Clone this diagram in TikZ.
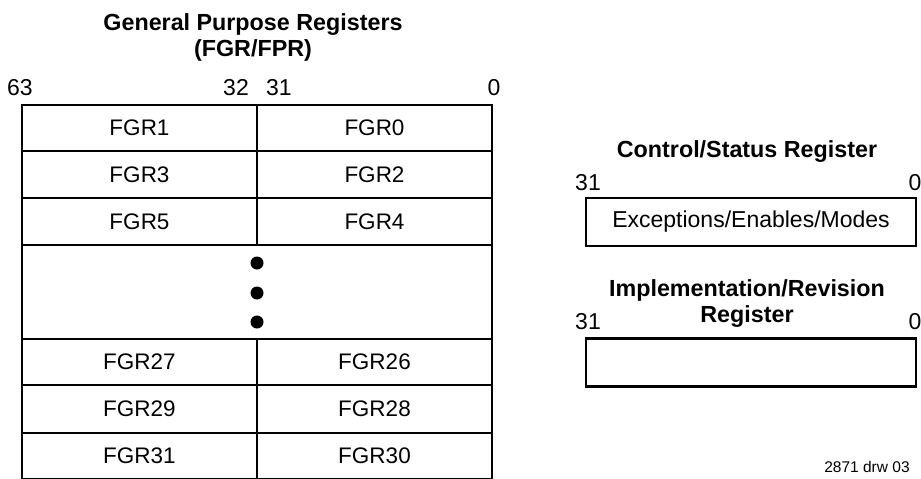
\documentclass[tikz,border=0pt]{standalone}
\usepackage{fontspec}
\setmainfont{Liberation Sans}
\begin{document}
\begin{tikzpicture}[x=1pt,y=-1pt,
  cell/.style={draw,line width=2.3pt,inner sep=0pt,minimum width=235pt,anchor=center,font=\fontsize{22.5}{24}\selectfont},
  title/.style={font=\bfseries\fontsize{23.3}{26}\selectfont,align=center,inner sep=0pt},
  bitlbl/.style={font=\fontsize{23}{24}\selectfont,inner sep=0pt},
  regbox/.style={draw,line width=2.3pt,inner sep=0pt,minimum width=330pt,minimum height=48pt,anchor=center,font=\fontsize{23}{24}\selectfont},
  dot/.style={circle,fill=black,inner sep=0pt,minimum size=13pt}]
\useasboundingbox (0,0) rectangle (921,479);
% GPR title
\node[title] (gprt) at (253,37) {General Purpose Registers\\(FGR/FPR)};
\node[bitlbl] (b63) at (20,88) {63};
\node[bitlbl,anchor=east] (b32) at (249,88) {32};
\node[bitlbl,anchor=west] (b31) at (266,88) {31};
\node[bitlbl] (b0) at (494,88) {0};
% rows
\node[cell,minimum height=46.5pt] (f1) at (139.5,128) {FGR1};
\node[cell,minimum height=46.5pt] (f0) at (374.5,128) {FGR0};
\node[cell,minimum height=47pt] (f3) at (139.5,174.5) {FGR3};
\node[cell,minimum height=47pt] (f2) at (374.5,174.5) {FGR2};
\node[cell,minimum height=47pt] (f5) at (139.5,221.5) {FGR5};
\node[cell,minimum height=47pt] (f4) at (374.5,221.5) {FGR4};
\node[cell,minimum width=470pt,minimum height=94pt] (gap) at (257,292) {};
\node[dot] (d1) at (257,263) {};
\node[dot] (d2) at (257,293) {};
\node[dot] (d3) at (257,322) {};
\node[cell,minimum height=46pt] (f27) at (139.5,362) {FGR27};
\node[cell,minimum height=46pt] (f26) at (374.5,362) {FGR26};
\node[cell,minimum height=48pt] (f29) at (139.5,409) {FGR29};
\node[cell,minimum height=48pt] (f28) at (374.5,409) {FGR28};
\node[cell,minimum height=46pt] (f31) at (139.5,456) {FGR31};
\node[cell,minimum height=46pt] (f30) at (374.5,456) {FGR30};
% Control/Status
\node[title] (csrt) at (747,152) {Control/Status Register};
\node[bitlbl] (c31) at (588,183) {31};
\node[bitlbl] (c0) at (915,183) {0};
\node[regbox] (csr) at (751,222) {Exceptions/Enables/Modes};
% Implementation/Revision
\node[title] (irrt) at (747,304) {Implementation/Revision\\Register};
\node[bitlbl] (i31) at (588,322) {31};
\node[bitlbl] (i0) at (915,322) {0};
\node[regbox] (irr) at (751,362.5) {};
\node[font=\fontsize{15.5}{17}\selectfont,inner sep=0pt] (drw) at (867,467) {2871 drw 03};
\end{tikzpicture}
\end{document}
